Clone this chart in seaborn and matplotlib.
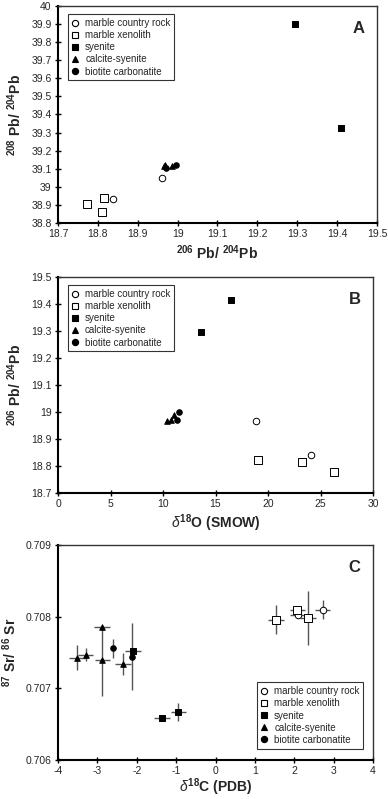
import matplotlib
matplotlib.use("Agg")
import matplotlib.pyplot as plt
import seaborn as sns
import pandas as pd
import numpy as np
from matplotlib.ticker import FuncFormatter, MultipleLocator
from matplotlib.lines import Line2D

sns.set_theme(style="white")
plt.rcParams['font.family'] = ['Liberation Sans', 'DejaVu Sans']
plt.rcParams['mathtext.fontset'] = 'custom'
plt.rcParams['mathtext.rm'] = 'Liberation Sans'
plt.rcParams['mathtext.bf'] = 'Liberation Sans:bold'
plt.rcParams['mathtext.it'] = 'Liberation Sans:italic'

groups = ["marble country rock", "marble xenolith", "syenite", "calcite-syenite", "biotite carbonatite"]

# Panel A: 206Pb/204Pb vs 208Pb/204Pb
a_group = ["marble country rock", "marble country rock",
           "marble xenolith", "marble xenolith", "marble xenolith",
           "syenite", "syenite",
           "calcite-syenite", "calcite-syenite", "calcite-syenite",
           "biotite carbonatite", "biotite carbonatite"]
a_x = [18.838, 18.962, 18.773, 18.816, 18.811, 19.294, 19.410, 18.965, 18.968, 18.985, 18.970, 18.996]
a_y = [38.932, 39.050, 38.905, 38.938, 38.859, 39.900, 39.325, 39.115, 39.122, 39.115, 39.102, 39.118]

# Panel B: d18O vs 206Pb/204Pb
b_group = a_group
b_x = [18.9, 24.1, 19.0, 23.2, 26.3, 13.6, 16.5, 10.4, 10.8, 11.0, 11.3, 11.5]
b_y = [18.967, 18.841, 18.822, 18.816, 18.779, 19.297, 19.414, 18.966, 18.972, 18.990, 18.972, 18.999]

# Panel C: d13C vs 87Sr/86Sr with errors
c_group = ["marble country rock", "marble country rock",
           "marble xenolith", "marble xenolith", "marble xenolith",
           "syenite", "syenite", "syenite",
           "calcite-syenite", "calcite-syenite", "calcite-syenite", "calcite-syenite", "calcite-syenite",
           "biotite carbonatite", "biotite carbonatite"]
c_x = [2.10, 2.72, 1.54, 2.08, 2.34, -2.10, -1.36, -0.94, -3.52, -3.30, -2.88, -2.87, -2.35, -2.61, -2.11]
c_y = [0.70803, 0.70810, 0.70796, 0.70810, 0.70798, 0.70752, 0.70658, 0.70667,
       0.70743, 0.70747, 0.70786, 0.70739, 0.70734, 0.70756, 0.70744]
c_xerr = [0.20, 0.20, 0.20, 0.20, 0.20, 0.20, 0.20, 0.20, 0.20, 0.20, 0.20, 0.20, 0.20, 0.0, 0.0]
c_yerr = [0.00005, 0.00013, 0.00020, 0.00005, 0.00038, 0.0, 0.0, 0.00013,
          0.00017, 0.00009, 0.0, 0.00049, 0.00016, 0.00013, 0.00047]

style = {
    "marble country rock": dict(marker="o", fc="white", s=22),
    "marble xenolith": dict(marker="s", fc="white", s=30),
    "syenite": dict(marker="s", fc="black", s=20),
    "calcite-syenite": dict(marker="^", fc="black", s=16),
    "biotite carbonatite": dict(marker="o", fc="black", s=16),
}

fmt = FuncFormatter(lambda v, p: ("%.4f" % v).rstrip("0").rstrip(".") if abs(v) < 1 else ("%g" % round(v, 3)))

fig = plt.figure(figsize=(3.88, 7.99), dpi=100)
axA = fig.add_axes([58/388, 1-223/799, 319/388, 217/799])
axB = fig.add_axes([58/388, 1-493/799, 315/388, 216/799])
axC = fig.add_axes([58/388, 1-760/799, 315/388, 215/799])


def draw(ax, gl, xs, ys):
    df = pd.DataFrame({"x": xs, "y": ys, "g": gl})
    for g in groups:
        sub = df[df.g == g]
        st = style[g]
        sns.scatterplot(data=sub, x="x", y="y", ax=ax, marker=st["marker"], s=st["s"],
                        color=st["fc"], edgecolor="black", linewidth=0.7, zorder=3, legend=False)


def style_ax(ax, letter):
    for sp in ["left", "bottom"]:
        ax.spines[sp].set_color("black")
        ax.spines[sp].set_linewidth(1.5)
    for sp in ["top", "right"]:
        ax.spines[sp].set_color("#333333")
        ax.spines[sp].set_linewidth(1.0)
    ax.tick_params(direction="inout", length=5, width=1.0, labelsize=7.5, color="black",
                   pad=2, bottom=True, left=True, top=False, right=False)
    ax.xaxis.set_major_formatter(fmt)
    ax.yaxis.set_major_formatter(fmt)
    ax.text(0.96, 0.93, letter, transform=ax.transAxes, ha="right", va="top",
            fontsize=12, fontweight="bold")
    ax.grid(False)


def legend(ax, loc, anchor):
    handles = [Line2D([], [], linestyle="", marker=style[g]["marker"], markerfacecolor=style[g]["fc"],
                      markeredgecolor="black", markersize=4.5, markeredgewidth=0.8) for g in groups]
    lg = ax.legend(handles, groups, loc=loc, bbox_to_anchor=anchor, fontsize=7, frameon=True,
                   fancybox=False, edgecolor="black", handlelength=0.8, handletextpad=0.6,
                   labelspacing=0.22, borderpad=0.4)
    lg.get_frame().set_linewidth(0.8)


# Panel A
draw(axA, a_group, a_x, a_y)
axA.set_xlim(18.7, 19.5)
axA.set_ylim(38.8, 40.0)
axA.xaxis.set_major_locator(MultipleLocator(0.1))
axA.yaxis.set_major_locator(MultipleLocator(0.1))
style_ax(axA, "A")
axA.set_xlabel(r"$\mathbf{^{206}\ Pb/\ ^{204}Pb}$", fontsize=10, labelpad=3)
axA.set_ylabel(r"$\mathbf{^{208}\ Pb/\ ^{204}Pb}$", fontsize=10, labelpad=5)
legend(axA, "upper left", (0.015, 0.985))

# Panel B
draw(axB, b_group, b_x, b_y)
axB.set_xlim(0, 30)
axB.set_ylim(18.7, 19.5)
axB.xaxis.set_major_locator(MultipleLocator(5))
axB.yaxis.set_major_locator(MultipleLocator(0.1))
style_ax(axB, "B")
axB.set_xlabel(r"$\delta^{\mathbf{18}}\mathbf{O\ (SMOW)}$", fontsize=10, labelpad=2)
axB.set_ylabel(r"$\mathbf{^{206}\ Pb/\ ^{204}Pb}$", fontsize=10, labelpad=5)
legend(axB, "upper left", (0.015, 0.985))

# Panel C
axC.errorbar(c_x, c_y, xerr=c_xerr, yerr=c_yerr, fmt="none", ecolor="#555555",
             elinewidth=1.0, capsize=0, zorder=2)
draw(axC, c_group, c_x, c_y)
axC.set_xlim(-4, 4)
axC.set_ylim(0.706, 0.709)
axC.xaxis.set_major_locator(MultipleLocator(1))
axC.yaxis.set_major_locator(MultipleLocator(0.001))
style_ax(axC, "C")
axC.set_xlabel(r"$\delta^{\mathbf{18}}\mathbf{C\ (PDB)}$", fontsize=10, labelpad=0)
axC.set_ylabel(r"$\mathbf{^{87}\ Sr/\ ^{86}\ Sr}$", fontsize=10, labelpad=5)
legend(axC, "lower right", (0.985, 0.03))

fig.savefig("out.png", dpi=100)
